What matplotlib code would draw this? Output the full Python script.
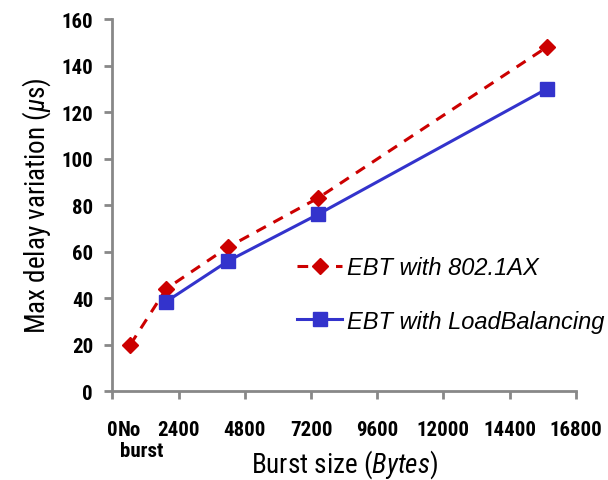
import matplotlib
matplotlib.use("Agg")
import matplotlib.pyplot as plt

# burst size (bytes), first point is "No burst"
burst_ax = [650, 1950, 4200, 7450, 15750]
delay_ax = [20, 44, 62, 83, 148]
burst_lb = [1950, 4200, 7450, 15750]
delay_lb = [38.5, 56, 76, 130]

xticks = [0, 2400, 4800, 7200, 9600, 12000, 14400, 16800]
yticks = [0, 20, 40, 60, 80, 100, 120, 140, 160]

plt.rcParams["mathtext.fontset"] = "custom"
plt.rcParams["mathtext.rm"] = "Roboto Condensed"
plt.rcParams["mathtext.it"] = "Roboto Condensed:italic"

red = "#CC0000"
blue = "#3333CC"
grey = "#888888"
tickfont = dict(family=["Roboto Condensed", "DejaVu Sans"], weight="bold", size=15)
labelfont = dict(family=["Roboto Condensed", "DejaVu Sans"], size=19.5)

fig = plt.figure(figsize=(6.08, 4.81), dpi=100)
ax = fig.add_axes([0.185, 0.185, 0.762, 0.773])

ax.plot(burst_ax, delay_ax, color=red, lw=2.2, ls=(0, (3.5, 2.8)),
        marker="D", ms=8, label="EBT with 802.1AX")
ax.plot(burst_lb, delay_lb, color=blue, lw=2.2, marker="s", ms=9.5,
        label="EBT with LoadBalancing")

ax.set_xlim(0, 16800)
ax.set_ylim(0, 160)
ax.set_xticks(xticks)
ax.set_yticks(yticks)
ax.set_xticklabels([str(t) for t in xticks], **tickfont)
ax.set_yticklabels([str(t) for t in yticks], **tickfont)
xt = ax.get_xaxis_transform()
ax.text(200, -0.078, "No", transform=xt, ha="left", va="top", **tickfont)
ax.text(280, -0.135, "burst", transform=xt, ha="left", va="top", **tickfont)

for s in ["top", "right"]:
    ax.spines[s].set_visible(False)
for s in ["left", "bottom"]:
    ax.spines[s].set_color(grey)
    ax.spines[s].set_linewidth(2)
ax.tick_params(colors=grey, width=2, length=6, labelcolor="black", pad=8)
ax.tick_params(axis="x", pad=15)

ax.set_xlabel("Burst size ($\\mathit{Bytes}$)", labelpad=6, **labelfont)
ax.set_ylabel("Max delay variation ($\\mathit{\\mu}$s)", labelpad=6, **labelfont)

leg = ax.legend(loc="center left", bbox_to_anchor=(0.353, 0.26), frameon=False,
                prop=dict(family="Liberation Sans", style="italic", size=17),
                labelspacing=1.3, handlelength=1.9, handletextpad=0.2)

fig.savefig("out.png", dpi=100)
